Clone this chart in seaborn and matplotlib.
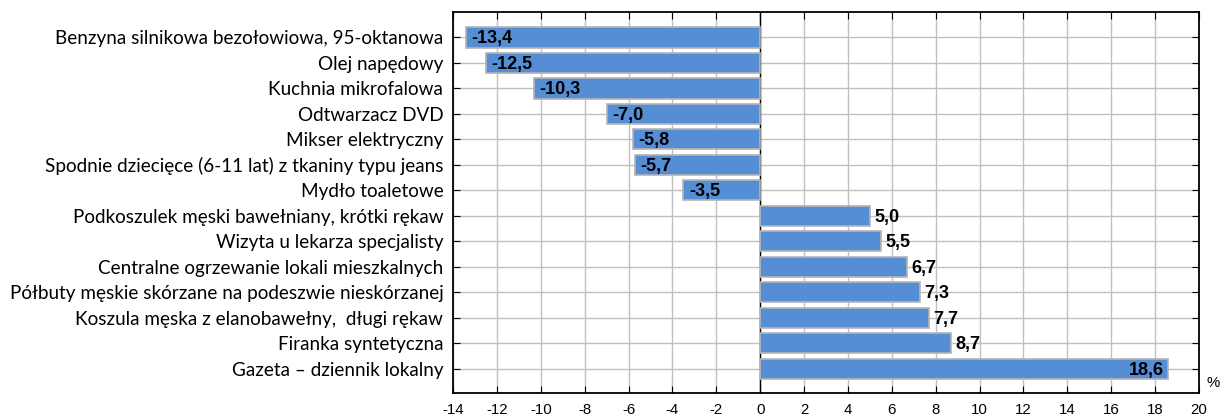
import pandas as pd
import seaborn as sns
import matplotlib.pyplot as plt

# Data
items = [
    'Benzyna silnikowa bezołowiowa, 95-oktanowa',
    'Olej napędowy',
    'Kuchnia mikrofalowa',
    'Odtwarzacz DVD',
    'Mikser elektryczny',
    'Spodnie dziecięce (6-11 lat) z tkaniny typu jeans',
    'Mydło toaletowe',
    'Podkoszulek męski bawełniany, krótki rękaw',
    'Wizyta u lekarza specjalisty',
    'Centralne ogrzewanie lokali mieszkalnych',
    'Półbuty męskie skórzane na podeszwie nieskórzanej',
    'Koszula męska z elanobawełny,  długi rękaw',
    'Firanka syntetyczna',
    'Gazeta – dziennik lokalny',
]
changes = [-13.4, -12.5, -10.3, -7.0, -5.8, -5.7, -3.5,
           5.0, 5.5, 6.7, 7.3, 7.7, 8.7, 18.6]
x_ticks = list(range(-14, 21, 2))

df = pd.DataFrame({'item': items, 'change': changes})

sns.set_style('white')
plt.rcParams['font.family'] = ['Liberation Sans', 'DejaVu Sans']
plt.rcParams['text.color'] = 'black'
plt.rcParams['xtick.color'] = 'black'
plt.rcParams['ytick.color'] = 'black'

fig = plt.figure(figsize=(12.2, 4.19), dpi=100)
ax = fig.add_axes([0.3713, 0.0621, 0.6115, 0.9093])

sns.barplot(data=df, x='change', y='item', orient='h', color='#558ed5',
            saturation=1, width=0.79, edgecolor='#b4b4b4', linewidth=1.2,
            ax=ax, zorder=3)

ax.set_xlim(-14, 20)
ax.set_ylim(13.95, -1.0)
ax.set_xticks(x_ticks)
ax.set_xticklabels([str(t) for t in x_ticks], fontsize=10.8)
ax.set_xlabel('')
ax.set_ylabel('')
ax.set_yticks(range(len(items)))
ax.set_yticklabels(items, fontsize=13.6, family=['Lato', 'DejaVu Sans'])

ax.grid(True, color='#c0c0c0', linewidth=1.0, zorder=0)
ax.set_axisbelow(True)
ax.axvline(0, color='black', linewidth=1.0, zorder=2)
for s in ax.spines.values():
    s.set_color('black')
    s.set_linewidth(1.3)

ax.tick_params(axis='x', direction='in', length=5, top=True, bottom=True,
               pad=7, color='black')
ax.tick_params(axis='y', direction='in', length=5, left=True, right=True,
               pad=7, color='black')

# value labels
for i, v in enumerate(changes):
    txt = f'{v:.1f}'.replace('.', ',')
    if v < 0:
        ax.text(v + 0.25, i + 0.05, txt, ha='left', va='center', fontsize=13,
                fontweight='bold', zorder=5)
    elif v > 15:
        ax.text(v - 0.2, i + 0.05, txt, ha='right', va='center', fontsize=13,
                fontweight='bold', zorder=5)
    else:
        ax.text(v + 0.2, i + 0.05, txt, ha='left', va='center', fontsize=13,
                fontweight='bold', zorder=5)

fig.text(0.9943, 0.086, '%', fontsize=10.8, ha='center', va='center')

plt.savefig('out.png', dpi=100)
plt.close()
